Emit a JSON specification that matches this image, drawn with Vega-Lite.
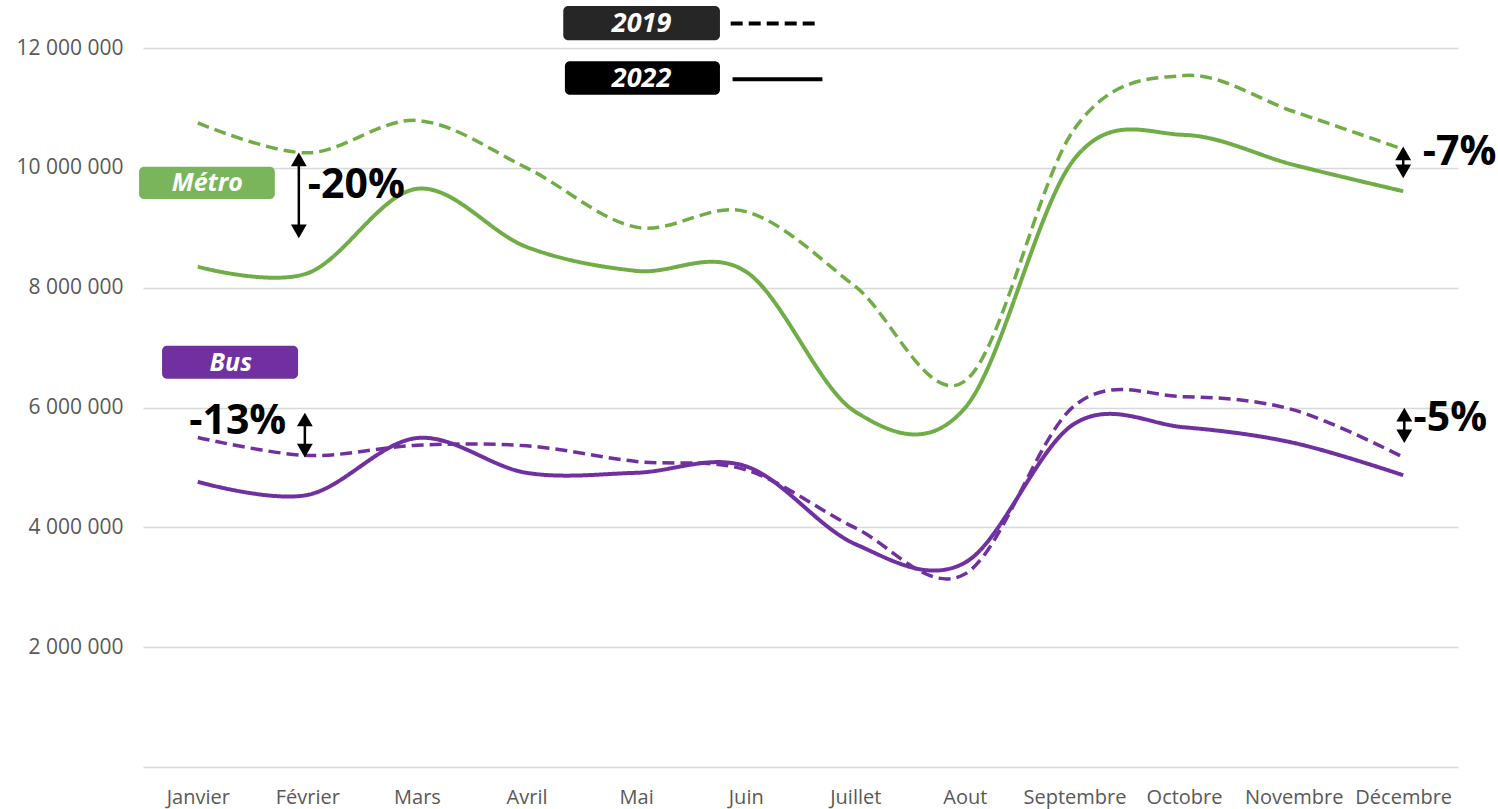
{
  "$schema": "https://vega.github.io/schema/vega-lite/v6.json",
  "width": 1315,
  "height": 719,
  "autosize": {"type": "none"},
  "padding": {"left": 143, "top": 48, "right": 40, "bottom": 42},
  "background": "white",
  "config": {"view": {"stroke": null}, "font": "Open Sans"},
  "datasets": {
    "series": [
      {"m": 0, "mode": "Métro", "year": "2019", "value": 10750000},
      {"m": 1, "mode": "Métro", "year": "2019", "value": 10250000},
      {"m": 2, "mode": "Métro", "year": "2019", "value": 10790000},
      {"m": 3, "mode": "Métro", "year": "2019", "value": 10000000},
      {"m": 4, "mode": "Métro", "year": "2019", "value": 9010000},
      {"m": 5, "mode": "Métro", "year": "2019", "value": 9270000},
      {"m": 6, "mode": "Métro", "year": "2019", "value": 8020000},
      {"m": 7, "mode": "Métro", "year": "2019", "value": 6440000},
      {"m": 8, "mode": "Métro", "year": "2019", "value": 10650000},
      {"m": 9, "mode": "Métro", "year": "2019", "value": 11540000},
      {"m": 10, "mode": "Métro", "year": "2019", "value": 10940000},
      {"m": 11, "mode": "Métro", "year": "2019", "value": 10310000},
      {"m": 0, "mode": "Métro", "year": "2022", "value": 8350000},
      {"m": 1, "mode": "Métro", "year": "2022", "value": 8240000},
      {"m": 2, "mode": "Métro", "year": "2022", "value": 9650000},
      {"m": 3, "mode": "Métro", "year": "2022", "value": 8680000},
      {"m": 4, "mode": "Métro", "year": "2022", "value": 8280000},
      {"m": 5, "mode": "Métro", "year": "2022", "value": 8270000},
      {"m": 6, "mode": "Métro", "year": "2022", "value": 5930000},
      {"m": 7, "mode": "Métro", "year": "2022", "value": 5990000},
      {"m": 8, "mode": "Métro", "year": "2022", "value": 10150000},
      {"m": 9, "mode": "Métro", "year": "2022", "value": 10550000},
      {"m": 10, "mode": "Métro", "year": "2022", "value": 10050000},
      {"m": 11, "mode": "Métro", "year": "2022", "value": 9610000},
      {"m": 0, "mode": "Bus", "year": "2019", "value": 5500000},
      {"m": 1, "mode": "Bus", "year": "2019", "value": 5200000},
      {"m": 2, "mode": "Bus", "year": "2019", "value": 5370000},
      {"m": 3, "mode": "Bus", "year": "2019", "value": 5360000},
      {"m": 4, "mode": "Bus", "year": "2019", "value": 5100000},
      {"m": 5, "mode": "Bus", "year": "2019", "value": 4960000},
      {"m": 6, "mode": "Bus", "year": "2019", "value": 3990000},
      {"m": 7, "mode": "Bus", "year": "2019", "value": 3220000},
      {"m": 8, "mode": "Bus", "year": "2019", "value": 6030000},
      {"m": 9, "mode": "Bus", "year": "2019", "value": 6180000},
      {"m": 10, "mode": "Bus", "year": "2019", "value": 5960000},
      {"m": 11, "mode": "Bus", "year": "2019", "value": 5170000},
      {"m": 0, "mode": "Bus", "year": "2022", "value": 4760000},
      {"m": 1, "mode": "Bus", "year": "2022", "value": 4540000},
      {"m": 2, "mode": "Bus", "year": "2022", "value": 5490000},
      {"m": 3, "mode": "Bus", "year": "2022", "value": 4910000},
      {"m": 4, "mode": "Bus", "year": "2022", "value": 4910000},
      {"m": 5, "mode": "Bus", "year": "2022", "value": 5020000},
      {"m": 6, "mode": "Bus", "year": "2022", "value": 3720000},
      {"m": 7, "mode": "Bus", "year": "2022", "value": 3410000},
      {"m": 8, "mode": "Bus", "year": "2022", "value": 5730000},
      {"m": 9, "mode": "Bus", "year": "2022", "value": 5670000},
      {"m": 10, "mode": "Bus", "year": "2022", "value": 5410000},
      {"m": 11, "mode": "Bus", "year": "2022", "value": 4870000}
    ],
    "boxes": [
      {"label": "2019", "x1": 3.335, "x2": 4.765, "y1": 12700000, "y2": 12130000, "tx": 4.05, "ty": 12400000},
      {"label": "2022", "x1": 3.35, "x2": 4.765, "y1": 11780000, "y2": 11220000, "tx": 4.05, "ty": 11480000},
      {"label": "Métro", "x1": -0.536, "x2": 0.703, "y1": 10020000, "y2": 9480000, "tx": 0.087, "ty": 9750000},
      {"label": "Bus", "x1": -0.326, "x2": 0.915, "y1": 7030000, "y2": 6480000, "tx": 0.301, "ty": 6740000}
    ],
    "keylines": [
      {"year": "2019", "x1": 4.863, "x2": 5.672, "y": 12410000},
      {"year": "2022", "x1": 4.88, "x2": 5.7, "y": 11480000}
    ],
    "arrows": [
      {"x": 0.922, "top": 10140000, "bottom": 8940000},
      {"x": 0.977, "top": 5800000, "bottom": 5280000},
      {"x": 11.0, "top": 10240000, "bottom": 9940000},
      {"x": 11.01, "top": 5880000, "bottom": 5520000}
    ],
    "changes": [
      {"label": "-20%", "x": 1.447, "y": 9690000},
      {"label": "-13%", "x": 0.365, "y": 5760000},
      {"label": "-7%", "x": 11.515, "y": 10240000},
      {"label": "-5%", "x": 11.43, "y": 5800000}
    ]
  },
  "layer": [
    {
      "data": {"name": "series"},
      "mark": {"type": "line", "interpolate": "cardinal"},
      "encoding": {
        "x": {
          "field": "m", "type": "quantitative", "title": null,
          "scale": {"domain": [-0.5, 11.5], "nice": false, "zero": false},
          "axis": {
            "title": null, "values": [0,1,2,3,4,5,6,7,8,9,10,11],
            "labelExpr": "['Janvier','Février','Mars','Avril','Mai','Juin','Juillet','Aout','Septembre','Octobre','Novembre','Décembre'][datum.value]",
            "grid": false, "ticks": false, "domain": true, "domainColor": "#d9d9d9", "domainWidth": 1.5,
            "labelFont": "Open Sans", "labelFontSize": 20, "labelColor": "#595959", "labelPadding": 20,
            "labelOverlap": false, "labelFlush": false
          }
        },
        "y": {
          "field": "value", "type": "quantitative", "title": null,
          "scale": {"domain": [0, 12000000], "nice": false},
          "axis": {
            "title": null, "values": [2000000,4000000,6000000,8000000,10000000,12000000],
            "labelExpr": "replace(format(datum.value, ','), regexp(',', 'g'), ' ')",
            "grid": true, "gridColor": "#d9d9d9", "gridWidth": 1.5,
            "ticks": false, "domain": false,
            "labelFont": "Open Sans", "labelFontSize": 21, "labelColor": "#595959", "labelPadding": 20
          }
        },
        "color": {"field": "mode", "type": "nominal", "scale": {"domain": ["Métro", "Bus"], "range": ["#70AD47", "#7030A0"]}, "legend": null},
        "strokeDash": {"field": "year", "type": "nominal", "scale": {"domain": ["2019", "2022"], "range": [[12, 6], [1, 0]]}, "legend": null},
        "strokeWidth": {"field": "year", "type": "nominal", "scale": {"domain": ["2019", "2022"], "range": [3.5, 4]}, "legend": null}
      }
    },
    {
      "data": {"name": "boxes"},
      "mark": {"type": "rect", "cornerRadius": 5},
      "encoding": {
        "x": {"field": "x1", "type": "quantitative", "title": null},
        "x2": {"field": "x2"},
        "y": {"field": "y1", "type": "quantitative", "title": null},
        "y2": {"field": "y2"},
        "fill": {"field": "label", "type": "nominal", "scale": {"domain": ["2019", "2022", "Métro", "Bus"], "range": ["#262626", "#000000", "#7AB55C", "#7030A0"]}, "legend": null}
      }
    },
    {
      "data": {"name": "boxes"},
      "mark": {"type": "text", "color": "white", "font": "Open Sans", "fontWeight": "bold", "fontStyle": "italic", "align": "center", "baseline": "middle"},
      "encoding": {
        "x": {"field": "tx", "type": "quantitative", "title": null},
        "y": {"field": "ty", "type": "quantitative", "title": null},
        "text": {"field": "label"},
        "size": {"condition": {"test": "datum.label == '2019' || datum.label == '2022'", "value": 27}, "value": 25}
      }
    },
    {
      "data": {"name": "keylines"},
      "mark": {"type": "rule", "color": "black", "strokeWidth": 4},
      "encoding": {
        "x": {"field": "x1", "type": "quantitative", "title": null},
        "x2": {"field": "x2"},
        "y": {"field": "y", "type": "quantitative", "title": null},
        "strokeDash": {"field": "year", "type": "nominal", "legend": null}
      }
    },
    {
      "data": {"name": "arrows"},
      "mark": {"type": "rule", "color": "black", "strokeWidth": 2.5},
      "encoding": {
        "x": {"field": "x", "type": "quantitative", "title": null},
        "y": {"field": "top", "type": "quantitative", "title": null},
        "y2": {"field": "bottom"}
      }
    },
    {
      "data": {"name": "arrows"},
      "mark": {"type": "point", "shape": "triangle-up", "filled": true, "color": "black", "size": 250, "opacity": 1},
      "encoding": {
        "x": {"field": "x", "type": "quantitative", "title": null},
        "y": {"field": "top", "type": "quantitative", "title": null}
      }
    },
    {
      "data": {"name": "arrows"},
      "mark": {"type": "point", "shape": "triangle-down", "filled": true, "color": "black", "size": 250, "opacity": 1},
      "encoding": {
        "x": {"field": "x", "type": "quantitative", "title": null},
        "y": {"field": "bottom", "type": "quantitative", "title": null}
      }
    },
    {
      "data": {"name": "changes"},
      "mark": {"type": "text", "color": "black", "font": "Open Sans", "fontSize": 41, "fontWeight": "bold", "align": "center", "baseline": "middle"},
      "encoding": {
        "x": {"field": "x", "type": "quantitative", "title": null},
        "y": {"field": "y", "type": "quantitative", "title": null},
        "text": {"field": "label"}
      }
    }
  ]
}
